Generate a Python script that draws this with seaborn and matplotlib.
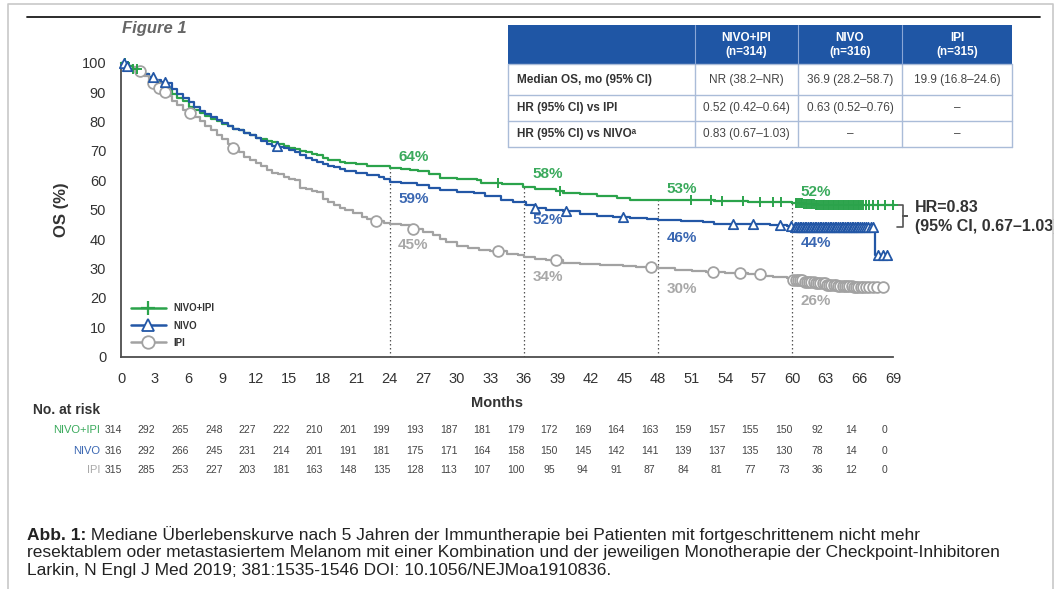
import numpy as np
import pandas as pd
import matplotlib.pyplot as plt
import seaborn as sns
from matplotlib.lines import Line2D
from matplotlib.patches import Rectangle
from matplotlib.transforms import blended_transform_factory

sns.set_style('white')
plt.rcParams['font.family'] = ['Liberation Sans', 'DejaVu Sans']

# ---- data ----
arms = ['NIVO+IPI', 'NIVO', 'IPI']

# Kaplan-Meier steps (month, OS %)
combo_t = [0, 0.5, 1, 1.5, 2, 2.5, 3, 3.5, 4, 4.5, 5, 5.5, 6, 6.5, 7, 7.5, 8, 8.5, 9, 9.5,
           10, 10.5, 11, 11.5, 12, 12.5, 13, 13.5, 14, 14.5, 15, 15.5, 16, 16.5, 17, 17.5, 18, 18.5, 19, 19.5,
           20, 21, 22, 23, 24, 25, 25.8, 26.5, 27.5, 28.5, 30, 31.8, 32.2, 34, 35.9, 37, 38.9, 39.5, 41, 42.5,
           44.3, 45.5, 47, 53, 56, 60, 61, 62, 69.2]
combo_s = [100, 99, 98, 97, 96, 95, 93.5, 92, 91, 89.5, 88, 87, 85, 84, 83, 82, 81, 80, 79, 78.5,
           77.5, 77, 76, 75.5, 74.5, 74, 73.5, 73, 72.5, 71.5, 71, 70.5, 70, 69.5, 69, 68.5, 67.5, 67, 66.8, 66.3,
           66, 65.5, 65, 64.8, 64.3, 64, 63.5, 63, 62, 60.8, 60.5, 60.1, 59, 58.7, 57.8, 57, 56.2, 55.6, 55.4, 54.8,
           53.9, 53.4, 53.2, 53.0, 52.7, 52.3, 52.0, 51.7, 51.7]

nivo_t = [0, 0.5, 1, 1.5, 2, 2.5, 3, 3.5, 4, 4.5, 5, 5.5, 6, 6.5, 7, 7.5, 8, 8.5, 9, 9.5,
          10, 10.5, 11, 11.5, 12, 12.5, 13, 13.5, 14, 14.5, 15, 15.5, 16, 16.5, 17, 17.5, 18, 18.5, 19, 19.5,
          20, 21, 22, 23, 23.5, 24, 25, 26.4, 27.5, 28.5, 30, 31.5, 32.5, 33.9, 35, 36.2, 37, 38, 39.5, 41,
          42.5, 44, 45.5, 47, 48, 50, 52, 53, 56, 58, 59.5, 60, 67.4, 68.6]
nivo_s = [100, 99, 98, 97.5, 96, 95, 94, 93.5, 93, 91, 89.5, 88, 86.5, 85, 83.5, 82.5, 81.5, 80.5, 79.5, 78.5,
          77.5, 77, 76, 75.5, 74.5, 73.5, 72.5, 71.8, 71.4, 71, 70.3, 69.7, 68.6, 67.5, 66.8, 66.3, 65.5, 65, 64.6, 64,
          63.3, 62.5, 61.8, 61, 60.5, 59.5, 59, 58.4, 57.5, 56.7, 56, 55.6, 54.5, 53.3, 52.5, 51.6, 50.5, 50, 49.5, 48.5,
          48, 47.6, 47.2, 46.8, 46.5, 46.2, 45.7, 45.2, 45, 44.7, 44.3, 44.0, 34.6, 34.6]

ipi_t = [0, 0.5, 1, 1.5, 2, 2.5, 3, 3.5, 4, 4.5, 5, 5.5, 6, 6.5, 7, 7.5, 8, 8.5, 9, 9.5,
         10, 10.5, 11, 11.5, 12, 12.5, 13, 13.5, 14, 14.5, 15, 15.5, 16, 16.5, 17, 17.5, 18, 18.5, 19, 19.5,
         20, 20.7, 21.5, 22, 22.8, 23.5, 24, 25, 26.1, 27, 27.9, 28.5, 29, 30, 31, 32, 33, 34.5, 35.5, 36,
         37, 38, 39.5, 41, 42.8, 44.9, 46, 48, 49.5, 51, 52.3, 54, 56, 57.5, 58.3, 59.5, 60, 61, 62, 63,
         64, 65.5, 68.1]
ipi_s = [100, 99, 98.5, 97, 95.5, 93, 91.5, 90, 88.5, 87, 85.5, 84, 83, 81.5, 80, 78.5, 77, 75.5, 74, 72.5,
         71, 69.5, 68, 67, 66, 65, 63.5, 62.5, 62, 61, 60.5, 60, 57.5, 57, 56.5, 56, 53.5, 52.5, 51.5, 50.5,
         50, 48.8, 47.5, 47, 46.3, 45.5, 45, 44.8, 43.5, 42.5, 41.4, 40, 39, 37.8, 37, 36.2, 35.8, 35, 34.5, 34,
         33.3, 32.8, 32, 31.6, 31.2, 30.8, 30.5, 30, 29.5, 29.2, 28.8, 28.3, 28, 27.6, 27.2, 26.8, 26.2, 25.5, 25, 24.5,
         24, 23.8, 23.8]

# censoring times (months)
combo_cens = [0.3, 0.6, 1.0, 1.4, 33.7, 39.2, 50.9, 52.7, 53.7, 55.6, 57.1, 58.3, 59.0, 60.3, 60.45, 60.6,
              60.75, 60.9, 61.05, 61.2, 61.35, 61.5, 61.65, 61.8, 61.95, 62.1, 62.25, 62.4, 62.55, 62.7, 62.85,
              63.0, 63.15, 63.3, 63.45, 63.6, 63.75, 63.9, 64.05, 64.2, 64.35, 64.5, 64.65, 64.8, 64.95, 65.1,
              65.25, 65.4, 65.55, 65.7, 65.85, 66.0, 66.15, 66.3, 66.6, 66.9, 67.2, 67.7, 68.3, 69.0]
nivo_cens = [0.2, 0.5, 2.85, 3.9, 13.9, 37.0, 39.8, 44.9, 54.7, 56.5, 58.9, 59.9, 60.2, 60.35, 60.5, 60.65,
             60.8, 60.95, 61.1, 61.25, 61.4, 61.55, 61.7, 61.85, 62.0, 62.15, 62.3, 62.45, 62.6, 62.75, 62.9,
             63.05, 63.2, 63.35, 63.5, 63.65, 63.8, 63.95, 64.1, 64.25, 64.4, 64.55, 64.7, 64.85, 65.0, 65.15,
             65.3, 65.45, 65.6, 65.75, 65.9, 66.05, 66.2, 66.4, 66.6, 66.8, 67.0, 67.2, 67.7, 68.1, 68.5]
ipi_cens = [1.65, 2.85, 3.4, 3.9, 6.1, 10.0, 22.8, 26.1, 33.7, 38.9, 47.4, 52.9, 55.3, 57.1, 60.1, 60.3,
            60.5, 60.7, 60.9, 61.1, 61.3, 61.5, 61.7, 61.9, 62.1, 62.3, 62.5, 62.7, 62.9, 63.1, 63.3, 63.5,
            63.7, 63.9, 64.1, 64.3, 64.5, 64.7, 64.9, 65.1, 65.3, 65.5, 65.7, 65.9, 66.1, 66.3, 66.6, 66.9,
            67.2, 67.6, 68.1]

# landmark survival rates
landmarks = [24, 36, 48, 60]
combo_rates = [64, 58, 53, 52]
nivo_rates = [59, 52, 46, 44]
ipi_rates = [45, 34, 30, 26]

# numbers at risk
risk_months = list(range(0, 70, 3))
risk_combo = [314, 292, 265, 248, 227, 222, 210, 201, 199, 193, 187, 181, 179, 172, 169, 164, 163, 159, 157, 155, 150, 92, 14, 0]
risk_nivo = [316, 292, 266, 245, 231, 214, 201, 191, 181, 175, 171, 164, 158, 150, 145, 142, 141, 139, 137, 135, 130, 78, 14, 0]
risk_ipi = [315, 285, 253, 227, 203, 181, 163, 148, 135, 128, 113, 107, 100, 95, 94, 91, 87, 84, 81, 77, 73, 36, 12, 0]

# summary table
table_cols = ['NIVO+IPI\n(n=314)', 'NIVO\n(n=316)', 'IPI\n(n=315)']
table_rows = ['Median OS, mo (95% CI)', 'HR (95% CI) vs IPI', 'HR (95% CI) vs NIVOᵃ']
table_vals = [['NR (38.2–NR)', '36.9 (28.2–58.7)', '19.9 (16.8–24.6)'],
              ['0.52 (0.42–0.64)', '0.63 (0.52–0.76)', '–'],
              ['0.83 (0.67–1.03)', '–', '–']]

caption_bold = 'Abb. 1:'
caption_lines = ['Mediane Überlebenskurve nach 5 Jahren der Immuntherapie bei Patienten mit fortgeschrittenem nicht mehr',
                 'resektablem oder metastasiertem Melanom mit einer Kombination und der jeweiligen Monotherapie der Checkpoint-Inhibitoren',
                 'Larkin, N Engl J Med 2019; 381:1535-1546 DOI: 10.1056/NEJMoa1910836.']

# ---- styling ----
line_col = {'NIVO+IPI': '#2ba34b', 'NIVO': '#2357a6', 'IPI': '#a2a2a2'}
text_col = {'NIVO+IPI': '#3aaa5c', 'NIVO': '#3a67b2', 'IPI': '#a8a8a8'}
dark = '#333333'
curves = {'NIVO+IPI': (combo_t, combo_s), 'NIVO': (nivo_t, nivo_s), 'IPI': (ipi_t, ipi_s)}
rates = {'NIVO+IPI': combo_rates, 'NIVO': nivo_rates, 'IPI': ipi_rates}
risks = {'NIVO+IPI': risk_combo, 'NIVO': risk_nivo, 'IPI': risk_ipi}


def step_at(arm, m):
    t, s = curves[arm]
    return s[np.searchsorted(t, m, side='right') - 1]


fig = plt.figure(figsize=(10.61, 5.89), dpi=100)
ov = fig.add_axes([0, 0, 1, 1])
ov.set_xlim(0, 1061)
ov.set_ylim(589, 0)
ov.set_axis_off()
ov.patch.set_visible(False)

ax = fig.add_axes([0.1145, 0.3944, 0.7271, 0.4992])
ax.set_facecolor('none')

df = pd.concat([pd.DataFrame({'month': curves[a][0], 'os': curves[a][1], 'arm': a}) for a in arms])
sns.lineplot(data=df, x='month', y='os', hue='arm', hue_order=arms, palette=line_col,
             estimator=None, sort=False, drawstyle='steps-post', linewidth=1.6, legend=False, ax=ax)
for l in ax.lines:
    l.set_clip_on(False)

# censor marks
sns.scatterplot(x=combo_cens, y=[step_at('NIVO+IPI', c) for c in combo_cens], marker='+',
                color=line_col['NIVO+IPI'], s=45, linewidth=1.4, zorder=4, clip_on=False, ax=ax)
sns.scatterplot(x=nivo_cens, y=[step_at('NIVO', c) for c in nivo_cens], marker='^',
                color='white', edgecolor=line_col['NIVO'], s=45, linewidth=1.3, zorder=4, clip_on=False, ax=ax)
sns.scatterplot(x=ipi_cens, y=[step_at('IPI', c) for c in ipi_cens], marker='o',
                color='white', edgecolor=line_col['IPI'], s=60, linewidth=1.3, zorder=3, clip_on=False, ax=ax)

# landmark lines and labels
ax.vlines(landmarks, 0, [step_at('NIVO+IPI', m) for m in landmarks], colors='#555555',
          linestyles=(0, (1.2, 2)), linewidth=0.9, zorder=1)
offsets = {'NIVO+IPI': 4, 'NIVO': -5.5, 'IPI': -7}
for a in arms:
    for m, r in zip(landmarks, rates[a]):
        ax.text(m + 2.1, r + offsets[a], f'{r}%', color=text_col[a], fontsize=11,
                fontweight='bold', ha='center', va='center')

# HR bracket
ax.plot([69.35, 69.9, 69.9, 70.25, 69.9, 69.9, 69.35], [51.7, 51.7, 47.9, 47.9, 47.9, 44.0, 44.0],
        color='#555555', lw=1.2, clip_on=False)
ax.text(71.0, 50.6, 'HR=0.83', fontsize=11.5, fontweight='bold', color=dark, va='center', ha='left')
ax.text(71.0, 44.2, '(95% CI, 0.67–1.03)', fontsize=11.5, fontweight='bold', color=dark,
        va='center', ha='left')

ax.set_xlim(0, 69)
ax.set_ylim(0, 100)
ax.set_xticks(risk_months)
ax.set_yticks(range(0, 101, 10))
sns.despine(ax=ax)
for sp in ['left', 'bottom']:
    ax.spines[sp].set_color('#4d4d4d')
    ax.spines[sp].set_linewidth(1.3)
ax.tick_params(axis='both', direction='out', length=6, width=1.3, color='#4d4d4d',
               labelsize=10.5, labelcolor=dark, pad=5)
ax.set_xlabel('Months', fontsize=10.5, fontweight='bold', color=dark)
ax.xaxis.set_label_coords(0.487, -0.134)
ax.set_ylabel('OS (%)', fontsize=12, fontweight='bold', color=dark)
ax.yaxis.set_label_coords(-0.068, 0.5)

handles = [Line2D([], [], color=line_col['NIVO+IPI'], lw=1.8, marker='+', ms=10, mew=1.6),
           Line2D([], [], color=line_col['NIVO'], lw=1.8, marker='^', ms=8, mfc='white', mec=line_col['NIVO'], mew=1.3),
           Line2D([], [], color=line_col['IPI'], lw=1.8, marker='o', ms=9, mfc='white', mec=line_col['IPI'], mew=1.3)]
leg = ax.legend(handles, arms, loc='lower left', bbox_to_anchor=(0.012, 0.03), frameon=False,
                handlelength=3.6, handletextpad=0.8, labelspacing=0.75, borderpad=0, borderaxespad=0,
                prop={'size': 7, 'weight': 'bold'})
for txt in leg.get_texts():
    txt.set_color(dark)

# numbers at risk
ov.text(33, 410, 'No. at risk', fontsize=10, fontweight='bold', color=dark, va='center')
risk_tr = blended_transform_factory(ax.transData, ov.transData)
for a, yy in zip(arms, [430, 450.5, 470]):
    ov.text(100, yy, a, fontsize=8, color=text_col[a], ha='right', va='center')
    for m, n in zip(risk_months, risks[a]):
        ov.text(m - 0.75, yy, str(n), fontsize=7.5, color='#444444', ha='center', va='center',
                transform=risk_tr)

# frame (on top, the picture is cut at its right edge), rule and title
fig.add_artist(Rectangle((1053.5 / 1061, 0), 8 / 1061, 1, transform=fig.transFigure,
                         color='white', lw=0, zorder=10))
fig.add_artist(Line2D(np.array([8, 8, 1053, 1053]) / 1061, 1 - np.array([589, 4, 4, 589]) / 589,
                      transform=fig.transFigure, color='#c8c8c8', lw=1.2, zorder=11))
ov.plot([27, 1040], [17, 17], color='#1a1a1a', lw=1.3)
ov.text(122, 28, 'Figure 1', fontsize=12, fontweight='bold', fontstyle='italic', color='#666666', va='center')

# table
tab_x = [508, 695, 798, 902, 1012]
tab_y = [25, 64, 95, 121, 147]
header_blue = '#1f56a5'
grid_c = '#aabcd8'
ov.add_patch(Rectangle((tab_x[0], tab_y[0]), tab_x[-1] - tab_x[0], tab_y[1] - tab_y[0], color=header_blue, lw=0))
for x in tab_x:
    ov.plot([x, x], [tab_y[1], tab_y[-1]], color=grid_c, lw=1)
for y in tab_y[1:]:
    ov.plot([tab_x[0], tab_x[-1]], [y, y], color=grid_c, lw=1)
for x in tab_x[1:-1]:
    ov.plot([x, x], [tab_y[0], tab_y[1]], color='#8aa6d6', lw=0.8)
for j, c in enumerate(table_cols):
    ov.text((tab_x[j + 1] + tab_x[j + 2]) / 2, 45, c, fontsize=8.5, fontweight='bold', color='white',
            ha='center', va='center', linespacing=1.15)
for i, r in enumerate(table_rows):
    yc = (tab_y[i + 1] + tab_y[i + 2]) / 2
    ov.text(516.7, yc, r, fontsize=8.5, fontweight='bold', color=dark, va='center')
    for j, v in enumerate(table_vals[i]):
        ov.text((tab_x[j + 1] + tab_x[j + 2]) / 2, yc, v, fontsize=8.5, color='#444444',
                ha='center', va='center')

# caption
cap_y = [535, 553, 571]
b = ov.text(27, cap_y[0], caption_bold, fontsize=12.5, fontweight='bold', color='#222222', va='center')
ov.annotate(' ' + caption_lines[0], xy=(1, 0.5), xycoords=b, fontsize=12.5, color='#222222',
            va='center', ha='left')
for yy, line in zip(cap_y[1:], caption_lines[1:]):
    ov.text(27, yy, line, fontsize=12.5, color='#222222', va='center')

fig.savefig('out.png', dpi=100)
